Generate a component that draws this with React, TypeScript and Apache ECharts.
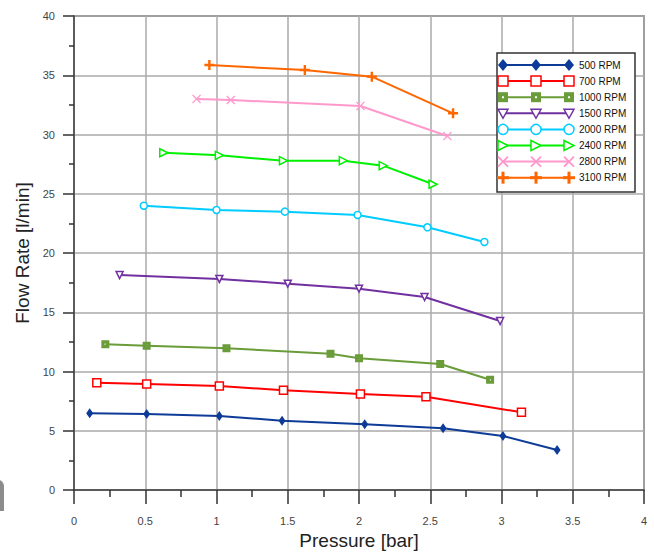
import React, { useEffect, useRef } from "react";
import * as echarts from "echarts";

// ---- data (pressure [bar], flow rate [l/min]) ----
const rpmLabels = ["500 RPM", "700 RPM", "1000 RPM", "1500 RPM", "2000 RPM", "2400 RPM", "2800 RPM", "3100 RPM"];

const pressure500 = [0.11, 0.51, 1.02, 1.46, 2.04, 2.59, 3.01, 3.39];
const flow500 = [6.47, 6.41, 6.24, 5.85, 5.54, 5.21, 4.56, 3.38];

const pressure700 = [0.16, 0.51, 1.02, 1.47, 2.01, 2.47, 3.14];
const flow700 = [9.05, 8.95, 8.78, 8.41, 8.1, 7.87, 6.56];

const pressure1000 = [0.22, 0.51, 1.07, 1.8, 2.0, 2.57, 2.92];
const flow1000 = [12.3, 12.18, 11.96, 11.5, 11.11, 10.63, 9.31];

const pressure1500 = [0.32, 1.02, 1.5, 2.0, 2.46, 2.99];
const flow1500 = [18.14, 17.81, 17.41, 16.99, 16.29, 14.26];

const pressure2000 = [0.49, 1.0, 1.48, 1.99, 2.48, 2.88];
const flow2000 = [23.99, 23.63, 23.49, 23.21, 22.17, 20.93];

const pressure2400 = [0.63, 1.02, 1.47, 1.89, 2.17, 2.52];
const flow2400 = [28.46, 28.24, 27.79, 27.79, 27.37, 25.8];

const pressure2800 = [0.86, 1.1, 2.01, 2.62];
const flow2800 = [33.0, 32.91, 32.41, 29.87];

const pressure3100 = [0.95, 1.62, 2.09, 2.66];
const flow3100 = [35.86, 35.44, 34.88, 31.79];

const pressures = [pressure500, pressure700, pressure1000, pressure1500, pressure2000, pressure2400, pressure2800, pressure3100];
const flows = [flow500, flow700, flow1000, flow1500, flow2000, flow2400, flow2800, flow3100];

const colors = ["#0D3B97", "#FF0000", "#6A9C3A", "#7030A0", "#00CCFF", "#00F000", "#FF99CC", "#FF6600"];
const kinds = ["diamond", "openSquare", "filledSquare", "downTri", "circle", "rightTri", "cross", "plus"];

const SQ_HOLE = "path://M0,0H10V10H0Z M4,4V6H6V4Z";
const X_PATH = "path://M0,1L1,0L5,4L9,0L10,1L6,5L10,9L9,10L5,6L1,10L0,9L4,5Z";
const PLUS_PATH = "path://M3.8,0H6.2V3.8H10V6.2H6.2V10H3.8V6.2H0V3.8H3.8Z";

function seriesSymbol(kind: string, color: string): any {
  switch (kind) {
    case "diamond":
      return { symbol: "diamond", symbolSize: [7, 10], itemStyle: { color } };
    case "openSquare":
      return { symbol: "rect", symbolSize: 8, itemStyle: { color: "#fff", borderColor: color, borderWidth: 1.5 } };
    case "filledSquare":
      return { symbol: SQ_HOLE, symbolSize: 8, itemStyle: { color } };
    case "downTri":
      return { symbol: "triangle", symbolRotate: 180, symbolSize: 7, itemStyle: { color: "#fff", borderColor: color, borderWidth: 1.5 } };
    case "circle":
      return { symbol: "circle", symbolSize: 7, itemStyle: { color: "#fff", borderColor: color, borderWidth: 1.5 } };
    case "rightTri":
      return { symbol: "triangle", symbolRotate: -90, symbolSize: 8, itemStyle: { color: "#fff", borderColor: color, borderWidth: 1.5 } };
    case "cross":
      return { symbol: X_PATH, symbolSize: 9, itemStyle: { color } };
    default:
      return { symbol: PLUS_PATH, symbolSize: 10, itemStyle: { color } };
  }
}

function legendMarker(kind: string, cx: number, cy: number, color: string): any[] {
  const s = 10;
  const h = s / 2;
  const open = { fill: "#fff", stroke: color, lineWidth: 1.5 };
  switch (kind) {
    case "diamond":
      return [{ type: "polygon", shape: { points: [[cx, cy - 6], [cx + 5, cy], [cx, cy + 6], [cx - 5, cy]] }, style: { fill: color } }];
    case "openSquare":
      return [{ type: "rect", shape: { x: cx - h, y: cy - h, width: s, height: s }, style: open }];
    case "filledSquare":
      return [
        { type: "rect", shape: { x: cx - h, y: cy - h, width: s, height: s }, style: { fill: color } },
        { type: "rect", shape: { x: cx - 1, y: cy - 1, width: 2, height: 2 }, style: { fill: "#fff" } },
      ];
    case "downTri":
      return [{ type: "polygon", shape: { points: [[cx - h, cy - h + 1], [cx + h, cy - h + 1], [cx, cy + h]] }, style: open }];
    case "circle":
      return [{ type: "circle", shape: { cx, cy, r: h }, style: open }];
    case "rightTri":
      return [{ type: "polygon", shape: { points: [[cx - h, cy - h], [cx + h, cy], [cx - h, cy + h]] }, style: open }];
    case "cross":
      return [
        { type: "line", shape: { x1: cx - h, y1: cy - h, x2: cx + h, y2: cy + h }, style: { stroke: color, lineWidth: 2 } },
        { type: "line", shape: { x1: cx - h, y1: cy + h, x2: cx + h, y2: cy - h }, style: { stroke: color, lineWidth: 2 } },
      ];
    default:
      return [
        { type: "line", shape: { x1: cx - h - 1, y1: cy, x2: cx + h + 1, y2: cy }, style: { stroke: color, lineWidth: 3 } },
        { type: "line", shape: { x1: cx, y1: cy - h - 1, x2: cx, y2: cy + h + 1 }, style: { stroke: color, lineWidth: 3 } },
      ];
  }
}

export default function App() {
  const ref = useRef<HTMLDivElement>(null);
  useEffect(() => {
    document.body.style.margin = "0";
    const chart = echarts.init(ref.current!, undefined, { renderer: "svg" });

    const series = rpmLabels.map((name, i) => ({
      name,
      type: "line",
      data: pressures[i].map((p, j) => [p, flows[i][j]]),
      lineStyle: { color: colors[i], width: 2 },
      showAllSymbol: true,
      z: 3 + i,
      ...seriesSymbol(kinds[i], colors[i]),
    }));

    const legendEls: any[] = [
      { type: "rect", shape: { x: 497, y: 53, width: 138, height: 139 }, style: { fill: "#fff", stroke: "#333", lineWidth: 1.5 }, z: 100 },
    ];
    rpmLabels.forEach((name, i) => {
      const cy = 65 + i * 16.1;
      legendEls.push({ type: "line", shape: { x1: 503, y1: cy, x2: 569, y2: cy }, style: { stroke: colors[i], lineWidth: 2 }, z: 101 });
      [503, 536, 569].forEach((cx) => {
        legendMarker(kinds[i], cx, cy, colors[i]).forEach((el) => legendEls.push({ ...el, z: 102 }));
      });
      legendEls.push({
        type: "text",
        x: 579,
        y: cy,
        style: { text: name, fill: "#111", font: "10px 'Liberation Sans', Arial, sans-serif", verticalAlign: "middle", align: "left" },
        z: 102,
      });
    });
    // small grey artefact at left edge
    legendEls.push({ type: "rect", shape: { x: -10, y: 480, width: 14, height: 31, r: [0, 6, 0, 0] }, style: { fill: "#8C8C8C" }, z: 100 });

    chart.setOption({
      animation: false,
      backgroundColor: "#fff",
      textStyle: { fontFamily: "'Liberation Sans', Arial, sans-serif" },
      grid: { left: 74, top: 16, right: 10, bottom: 68, show: true, borderColor: "#555", borderWidth: 1.5, backgroundColor: "transparent" },
      xAxis: {
        type: "value",
        min: 0,
        max: 4,
        interval: 0.5,
        name: "Pressure [bar]",
        nameLocation: "middle",
        nameGap: 40,
        nameTextStyle: { fontSize: 19, color: "#222" },
        axisLine: { show: true, onZero: false, lineStyle: { color: "#444", width: 1.5 } },
        axisTick: { show: true, length: 14, lineStyle: { color: "#333", width: 1.5 } },
        minorTick: { show: true, splitNumber: 2, length: 7, lineStyle: { color: "#333", width: 1.5 } },
        axisLabel: { fontSize: 11, color: "#444", margin: 25 },
        splitLine: { show: true, lineStyle: { color: "#AAAAAA", width: 1.5 } },
      },
      yAxis: {
        type: "value",
        min: 0,
        max: 40,
        interval: 5,
        name: "Flow Rate [l/min]",
        nameLocation: "middle",
        nameGap: 42,
        nameTextStyle: { fontSize: 19, color: "#222" },
        axisLine: { show: true, onZero: false, lineStyle: { color: "#444", width: 1.5 } },
        axisTick: { show: true, length: 11, lineStyle: { color: "#333", width: 1.5 } },
        minorTick: { show: true, splitNumber: 2, length: 5, lineStyle: { color: "#333", width: 1.5 } },
        axisLabel: { fontSize: 11, color: "#444", margin: 19 },
        splitLine: { show: true, lineStyle: { color: "#AAAAAA", width: 1.5 } },
      },
      series,
      graphic: legendEls,
    });
    return () => chart.dispose();
  }, []);
  return <div ref={ref} style={{ width: 654, height: 558 }} />;
}
